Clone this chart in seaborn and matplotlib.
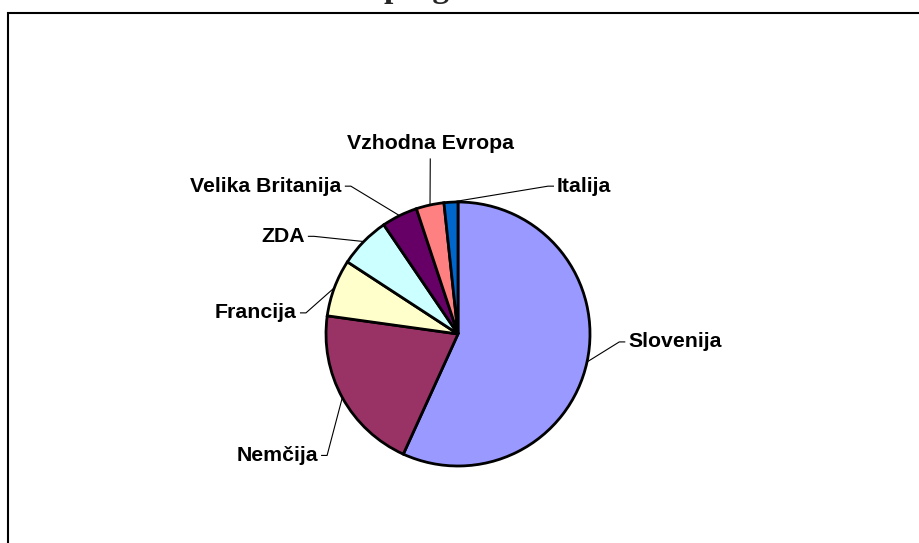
import matplotlib
matplotlib.use("Agg")
import matplotlib.pyplot as plt
from matplotlib.patches import Rectangle
import numpy as np
import seaborn as sns

# shares (percent)
countries = ["Slovenija", "Nemčija", "Francija", "ZDA",
             "Velika Britanija", "Vzhodna Evropa", "Italija"]
shares = [56.8, 20.4, 7.0, 6.3, 4.4, 3.4, 1.7]
colors = ["#9999FF", "#993366", "#FFFFCC", "#CCFFFF",
          "#660066", "#FF8080", "#0066CC"]

# label anchors (pie radius = 1) and alignment
label_pos = [(1.29, -0.06), (-1.06, -0.92), (-1.22, 0.16), (-1.16, 0.74),
             (-0.88, 1.12), (-0.21, 1.44), (0.75, 1.12)]
label_ha = ["left", "right", "right", "right", "right", "center", "left"]

sns.set_theme(style="white")
plt.rcParams["font.family"] = ["Liberation Sans", "DejaVu Sans"]

W, H, DPI = 919, 543, 100
fig = plt.figure(figsize=(W / DPI, H / DPI), dpi=DPI)
ax = fig.add_axes([0, 0, 1, 1])

# pie centre / radius in pixels
cx, cy, r = 458, 334, 132

wedges, _ = ax.pie(shares, colors=colors, startangle=90, counterclock=False,
                   radius=1, wedgeprops=dict(edgecolor="black", linewidth=2))
ax.set_aspect("auto")
ax.set_xlim(-cx / r, (W - cx) / r)
ax.set_ylim((cy - H) / r, cy / r)
ax.axis("off")

tick = 6 / r
gap = 3 / r
for w, name, (lx, ly), ha in zip(wedges, countries, label_pos, label_ha):
    mid = np.deg2rad((w.theta1 + w.theta2) / 2)
    ex, ey = np.cos(mid), np.sin(mid)
    if ha == "left":
        pts = [(ex, ey), (lx - gap - tick, ly), (lx - gap, ly)]
    elif ha == "right":
        pts = [(ex, ey), (lx + gap + tick, ly), (lx + gap, ly)]
    else:
        pts = [(ex, ey), (lx, ly - 0.11)]
    xs, ys = zip(*pts)
    ax.plot(xs, ys, color="black", lw=0.8, solid_capstyle="butt")
    ax.text(lx, ly, name, ha=ha, va="center", fontsize=15.3,
            fontweight="bold", color="black")

# chart area border (runs off right and bottom edges)
fig.patches.append(Rectangle((8 / W, -0.05), 1.0, 1 - 13 / H + 0.05,
                             transform=fig.transFigure, fill=False,
                             edgecolor="black", lw=1.5))

# title, mostly cut off at the top edge
fig.text(384 / W, 1 + 3 / H, "program", ha="left", va="baseline",
         fontsize=24, fontweight="bold", family=["Liberation Serif", "DejaVu Serif"])

fig.savefig("out.png", dpi=DPI)
